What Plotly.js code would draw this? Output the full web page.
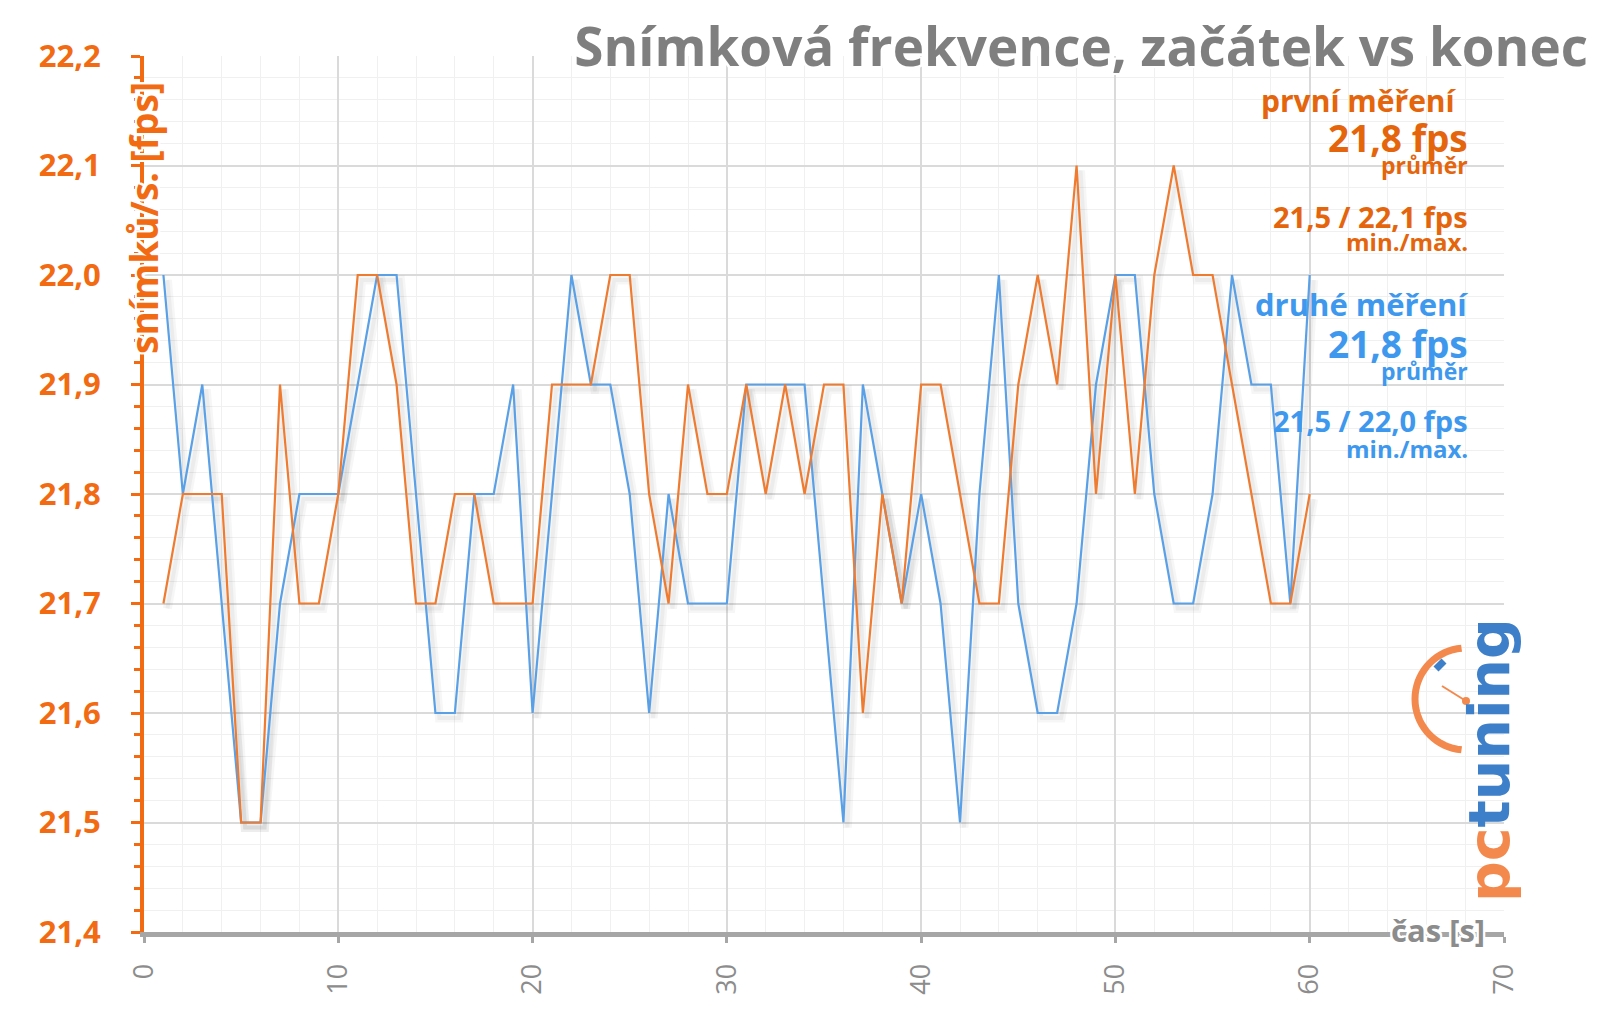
<!DOCTYPE html>
<html><head><meta charset="utf-8">
<script src="https://cdn.plot.ly/plotly-3.0.1.min.js"></script>
<style>html,body{margin:0;padding:0;background:#fff}</style>
</head><body><div id="chart" style="width:1600px;height:1015px"></div>
<script>
// ---- data ----
const seconds = [1,2,3,4,5,6,7,8,9,10,11,12,13,14,15,16,17,18,19,20,
  21,22,23,24,25,26,27,28,29,30,31,32,33,34,35,36,37,38,39,40,
  41,42,43,44,45,46,47,48,49,50,51,52,53,54,55,56,57,58,59,60];
const firstRun = [21.7,21.8,21.8,21.8,21.5,21.5,21.9,21.7,21.7,21.8,
  22.0,22.0,21.9,21.7,21.7,21.8,21.8,21.7,21.7,21.7,
  21.9,21.9,21.9,22.0,22.0,21.8,21.7,21.9,21.8,21.8,
  21.9,21.8,21.9,21.8,21.9,21.9,21.6,21.8,21.7,21.9,
  21.9,21.8,21.7,21.7,21.9,22.0,21.9,22.1,21.8,22.0,
  21.8,22.0,22.1,22.0,22.0,21.9,21.8,21.7,21.7,21.8];
const secondRun = [22.0,21.8,21.9,21.7,21.5,21.5,21.7,21.8,21.8,21.8,
  21.9,22.0,22.0,21.8,21.6,21.6,21.8,21.8,21.9,21.6,
  21.8,22.0,21.9,21.9,21.8,21.6,21.8,21.7,21.7,21.7,
  21.9,21.9,21.9,21.9,21.7,21.5,21.9,21.8,21.7,21.8,
  21.7,21.5,21.8,22.0,21.7,21.6,21.6,21.7,21.9,22.0,
  22.0,21.8,21.7,21.7,21.8,22.0,21.9,21.9,21.7,22.0];
const seriesNames = ['první měření', 'druhé měření'];
const firstStats = {avg: '21,8 fps', minmax: '21,5 / 22,1 fps'};
const secondStats = {avg: '21,8 fps', minmax: '21,5 / 22,0 fps'};
const titleText = 'Snímková frekvence, začátek vs konec';
const yTitle = 'snímků/s. [fps]';
const xTitle = 'čas [s]';
const xRange = [0, 70];
const yRange = [21.4, 22.2];

// ---- styling ----
const ORANGE_AX = '#F26A12';
const ORANGE_TXT = '#E4650C';
const ORANGE_LINE = '#EE7B30';
const BLUE_LINE = '#5AA0E6';
const BLUE_TXT = '#3D98EE';
const GRAY = '#8c8c8c';
const FONT = 'Open Sans';
const L = 144, R = 1504, T = 56, B = 932;
const px = x => (x - L) / (R - L);
const py = y => (B - y) / (B - T);
const halo = '2px 0 0 #fff, -2px 0 0 #fff, 0 2px 0 #fff, 0 -2px 0 #fff, 2px 2px 0 #fff, -2px -2px 0 #fff, 2px -2px 0 #fff, -2px 2px 0 #fff';

// shadow offset (pixels -> data units) for a soft drop shadow under the lines
const dxPix = 4, dyPix = 5;
const xPer = (xRange[1] - xRange[0]) / (R - L);
const yPer = (yRange[1] - yRange[0]) / (B - T);
const shX = [xRange[0] - dxPix * xPer, xRange[1] - dxPix * xPer];
const shY = [yRange[0] + dyPix * yPer, yRange[1] + dyPix * yPer];

const traces = [
  // keeps the main (visible) axes alive
  {x: [], y: [], type: 'scatter', mode: 'lines', hoverinfo: 'skip', showlegend: false},
  {x: seconds, y: secondRun, xaxis: 'x2', yaxis: 'y2', mode: 'lines', hoverinfo: 'skip',
   line: {color: 'rgba(0,0,0,0.035)', width: 9}},
  {x: seconds, y: firstRun, xaxis: 'x2', yaxis: 'y2', mode: 'lines', hoverinfo: 'skip',
   line: {color: 'rgba(0,0,0,0.035)', width: 9}},
  {x: seconds, y: secondRun, xaxis: 'x2', yaxis: 'y2', mode: 'lines', hoverinfo: 'skip',
   line: {color: 'rgba(0,0,0,0.04)', width: 4}},
  {x: seconds, y: firstRun, xaxis: 'x2', yaxis: 'y2', mode: 'lines', hoverinfo: 'skip',
   line: {color: 'rgba(0,0,0,0.04)', width: 4}},
  {x: seconds, y: secondRun, name: seriesNames[1], xaxis: 'x3', yaxis: 'y3', type: 'scatter', mode: 'lines',
   line: {color: BLUE_LINE, width: 2.2}},
  {x: seconds, y: firstRun, name: seriesNames[0], xaxis: 'x3', yaxis: 'y3', type: 'scatter', mode: 'lines',
   line: {color: ORANGE_LINE, width: 2.2}}
];

function txt(text, xPix, yPix, size, color) {
  return {text: text, xref: 'paper', yref: 'paper', x: px(xPix), y: py(yPix),
    xanchor: 'right', yanchor: 'middle', showarrow: false,
    font: {family: FONT, size: size, color: color, weight: 700}};
}

const annotations = [
  txt(seriesNames[0], 1459, 100, 30, ORANGE_TXT),
  txt(firstStats.avg, 1470, 137, 37, ORANGE_TXT),
  txt('průměr', 1470, 165, 23, ORANGE_TXT),
  txt(firstStats.minmax, 1470, 216, 29, ORANGE_TXT),
  txt('min./max.', 1470, 242, 24, ORANGE_TXT),
  txt(seriesNames[1], 1470, 304, 31, BLUE_TXT),
  txt(secondStats.avg, 1470, 343, 37, BLUE_TXT),
  txt('průměr', 1470, 371, 23, BLUE_TXT),
  txt(secondStats.minmax, 1470, 421, 29, BLUE_TXT),
  txt('min./max.', 1470, 448, 24, BLUE_TXT),
  {text: yTitle, xref: 'paper', yref: 'paper', x: px(144), y: py(218), xanchor: 'center', yanchor: 'middle',
   textangle: -90, showarrow: false, font: {family: FONT, size: 37, color: ORANGE_AX, weight: 700, shadow: halo}},
  {text: xTitle, xref: 'paper', yref: 'paper', x: px(1487), y: py(930), xanchor: 'right', yanchor: 'middle',
   showarrow: false, font: {family: FONT, size: 31, color: GRAY, weight: 700, shadow: halo}},
  {text: '<span style="color:#F4894D">pc</span><span style="color:#3D7FC8">tuning</span>',
   xref: 'paper', yref: 'paper', x: px(1489), y: py(760), xanchor: 'center', yanchor: 'middle',
   textangle: -90, showarrow: false, font: {family: 'DejaVu Sans', size: 57, weight: 700}}
];

// logo gauge (decoration)
const cx = 1466, cy = 699, rr = 51;
let arc = '';
for (let a = 95; a <= 265; a += 5) {
  const t = a * Math.PI / 180;
  const X = px(cx + rr * Math.cos(t)), Y = py(cy - rr * Math.sin(t));
  arc += (arc ? ' L ' : 'M ') + X.toFixed(5) + ',' + Y.toFixed(5);
}
const shapes = [
  {type: 'path', xref: 'paper', yref: 'paper', path: arc, line: {color: '#F4894D', width: 7}},
  {type: 'line', xref: 'paper', yref: 'paper', x0: px(1436), y0: py(669), x1: px(1444), y1: py(661),
   line: {color: '#3D7FC8', width: 7}},
  {type: 'line', xref: 'paper', yref: 'paper', x0: px(1442), y0: py(686), x1: px(1466), y1: py(701),
   line: {color: '#F4894D', width: 2}},
  {type: 'circle', xref: 'paper', yref: 'paper', x0: px(1462), y0: py(705), x1: px(1470), y1: py(697),
   fillcolor: '#F4894D', line: {width: 0}}
];

const hiddenAx = {visible: false, fixedrange: true, showgrid: false, zeroline: false};

const layout = {
  width: 1600, height: 1015,
  margin: {l: L, r: 1600 - R, t: T, b: 1015 - B},
  paper_bgcolor: '#fff', plot_bgcolor: '#fff',
  separators: ', ',
  showlegend: false,
  font: {family: FONT},
  title: {text: titleText, xref: 'container', yref: 'container', x: 1588 / 1600, xanchor: 'right',
    y: 1 - 47 / 1015, yanchor: 'middle',
    font: {family: FONT, size: 53, color: '#7f7f7f', weight: 700, shadow: halo}},
  xaxis: {range: xRange, dtick: 10, tick0: 0, tickangle: -90,
    showgrid: true, gridcolor: '#dadada', gridwidth: 2,
    minor: {dtick: 2, showgrid: true, gridcolor: '#f0f0f0', gridwidth: 1, ticks: ''},
    showline: true, linecolor: '#a6a6a6', linewidth: 5,
    ticks: 'outside', ticklen: 6, tickwidth: 3, tickcolor: '#a6a6a6',
    ticklabelstandoff: 10,
    tickfont: {family: FONT, size: 27, color: GRAY},
    zeroline: false, fixedrange: true},
  yaxis: {range: yRange, dtick: 0.1, tick0: 21.4, tickformat: '.1f',
    showgrid: true, gridcolor: '#dadada', gridwidth: 2,
    minor: {dtick: 0.02, showgrid: true, gridcolor: '#f0f0f0', gridwidth: 1,
      ticks: 'outside', ticklen: 6, tickwidth: 3, tickcolor: ORANGE_AX},
    showline: true, linecolor: ORANGE_AX, linewidth: 4,
    ticks: 'outside', ticklen: 9, tickwidth: 3, tickcolor: ORANGE_AX,
    ticklabelstandoff: 24,
    tickfont: {family: FONT, size: 31, color: ORANGE_AX, weight: 700},
    zeroline: false, fixedrange: true},
  xaxis2: Object.assign({overlaying: 'x', range: shX}, hiddenAx),
  yaxis2: Object.assign({overlaying: 'y', range: shY}, hiddenAx),
  xaxis3: Object.assign({overlaying: 'x', range: xRange}, hiddenAx),
  yaxis3: Object.assign({overlaying: 'y', range: yRange}, hiddenAx),
  annotations: annotations,
  shapes: shapes
};

Plotly.newPlot('chart', traces, layout, {staticPlot: true, displayModeBar: false});
</script></body></html>
